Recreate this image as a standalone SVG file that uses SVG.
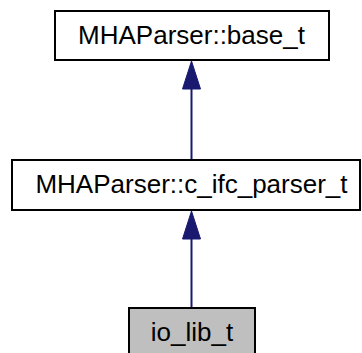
<svg xmlns="http://www.w3.org/2000/svg" width="362" height="353" viewBox="0 0 362 353">
<style>
.box{fill:#ffffff;stroke:#000000;stroke-width:2}
.cur{fill:#bfbfbf;stroke:#000000;stroke-width:2}
.lbl{font-family:"Liberation Sans",Arial,sans-serif;font-size:26px;fill:#000000;text-anchor:middle}
.edge{stroke:#191970;stroke-width:2;fill:none}
.head{fill:#191970;stroke:#191970;stroke-width:1}
</style>
<rect width="362" height="353" fill="#ffffff"/>
<g id="connectors">
<line class="edge" x1="191.5" y1="89" x2="191.5" y2="159"/>
<polygon class="head" points="191.5,61 182.5,89 200.5,89"/>
<line class="edge" x1="191.5" y1="239" x2="191.5" y2="308"/>
<polygon class="head" points="191.5,211 182.5,239 200.5,239"/>
</g>
<g id="node_base_t">
<rect class="box" x="55" y="11" width="274" height="49"/>
<text class="lbl" x="191.5" y="44">MHAParser::base_t</text>
</g>
<g id="node_c_ifc_parser_t">
<rect class="box" x="12" y="160" width="348" height="50"/>
<text class="lbl" x="191.5" y="193">MHAParser::c_ifc_parser_t</text>
</g>
<g id="node_io_lib_t">
<rect class="cur" x="129" y="308" width="126" height="60"/>
<text class="lbl" x="192" y="341">io_lib_t</text>
</g>
</svg>
